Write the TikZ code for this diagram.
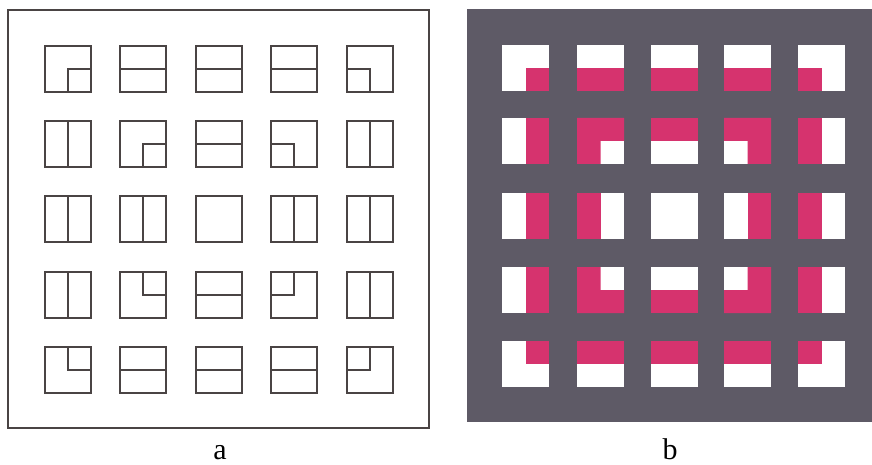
\documentclass[tikz,border=0pt]{standalone}
\usepackage{fontspec}
\setmainfont{Liberation Serif}
\definecolor{linec}{HTML}{4A4444}
\definecolor{bgray}{HTML}{5E5A66}
\definecolor{pinkc}{HTML}{D6336E}
\tikzset{
  sq/.style={draw=linec,line width=1.3pt},
  pk/.style={fill=pinkc},
  lbl/.style={font=\fontsize{30}{36}\selectfont,anchor=base,inner sep=0pt},
  pics/aN/.style={code={\draw[sq] (0,0) rectangle (46,46);}},
  pics/aH/.style={code={\draw[sq] (0,0) rectangle (46,46); \draw[sq] (0,23) -- (46,23);}},
  pics/aV/.style={code={\draw[sq] (0,0) rectangle (46,46); \draw[sq] (23,0) -- (23,46);}},
  pics/aBR/.style={code={\draw[sq] (0,0) rectangle (46,46); \draw[sq] (46,23) -- (23,23) -- (23,46);}},
  pics/aBL/.style={code={\draw[sq] (0,0) rectangle (46,46); \draw[sq] (0,23) -- (23,23) -- (23,46);}},
  pics/aTR/.style={code={\draw[sq] (0,0) rectangle (46,46); \draw[sq] (23,0) -- (23,23) -- (46,23);}},
  pics/aTL/.style={code={\draw[sq] (0,0) rectangle (46,46); \draw[sq] (23,0) -- (23,23) -- (0,23);}},
  pics/bN/.style={code={\fill[white] (0,0) rectangle (47,46);}},
  pics/bBR/.style={code={\fill[white] (0,0) rectangle (47,46); \fill[pk] (23.5,23) rectangle (47,46);}},
  pics/bBL/.style={code={\fill[white] (0,0) rectangle (47,46); \fill[pk] (0,23) rectangle (23.5,46);}},
  pics/bTR/.style={code={\fill[white] (0,0) rectangle (47,46); \fill[pk] (23.5,0) rectangle (47,23);}},
  pics/bTL/.style={code={\fill[white] (0,0) rectangle (47,46); \fill[pk] (0,0) rectangle (23.5,23);}},
  pics/bHB/.style={code={\fill[white] (0,0) rectangle (47,46); \fill[pk] (0,23) rectangle (47,46);}},
  pics/bHT/.style={code={\fill[white] (0,0) rectangle (47,46); \fill[pk] (0,0) rectangle (47,23);}},
  pics/bVR/.style={code={\fill[white] (0,0) rectangle (47,46); \fill[pk] (23.5,0) rectangle (47,46);}},
  pics/bVL/.style={code={\fill[white] (0,0) rectangle (47,46); \fill[pk] (0,0) rectangle (23.5,46);}},
  pics/bXBR/.style={code={\fill[white] (0,0) rectangle (47,46); \fill[pk] (0,0) -- (47,0) -- (47,23) -- (23.5,23) -- (23.5,46) -- (0,46) -- cycle;}},
  pics/bXBL/.style={code={\fill[white] (0,0) rectangle (47,46); \fill[pk] (0,0) -- (47,0) -- (47,46) -- (23.5,46) -- (23.5,23) -- (0,23) -- cycle;}},
  pics/bXTR/.style={code={\fill[white] (0,0) rectangle (47,46); \fill[pk] (0,0) -- (23.5,0) -- (23.5,23) -- (47,23) -- (47,46) -- (0,46) -- cycle;}},
  pics/bXTL/.style={code={\fill[white] (0,0) rectangle (47,46); \fill[pk] (23.5,0) -- (47,0) -- (47,46) -- (0,46) -- (0,23) -- (23.5,23) -- cycle;}}
}
\begin{document}
\begin{tikzpicture}[x=1pt,y=-1pt]
\useasboundingbox (0,0) rectangle (872,465);
% panel a
\draw[sq,line width=1.5pt] (8,10) rectangle (429,428);
\foreach \t [count=\i from 0] in {aBR,aH,aH,aH,aBL,aV,aBR,aH,aBL,aV,aV,aV,aN,aV,aV,aV,aTR,aH,aTL,aV,aTR,aH,aH,aH,aTL}{
  \pgfmathtruncatemacro\c{mod(\i,5)}
  \pgfmathtruncatemacro\r{div(\i,5)}
  \pgfmathsetmacro\xx{{45,120,196,271,347}[\c]}
  \pgfmathsetmacro\yy{{46,121,196,272,347}[\r]}
  \pic at (\xx,\yy) {\t};
}
\node[lbl] (la) at (220,459) {a};
% panel b
\fill[bgray] (467,9) rectangle (872,422);
\foreach \t [count=\i from 0] in {bBR,bHB,bHB,bHB,bBL,bVR,bXBR,bHT,bXBL,bVL,bVR,bVL,bN,bVR,bVL,bVR,bXTR,bHB,bXTL,bVL,bTR,bHT,bHT,bHT,bTL}{
  \pgfmathtruncatemacro\c{mod(\i,5)}
  \pgfmathtruncatemacro\r{div(\i,5)}
  \pgfmathsetmacro\xx{{502,577,651,724,798}[\c]}
  \pgfmathsetmacro\yy{{45,118,193,267,341}[\r]}
  \pic at (\xx,\yy) {\t};
}
\node[lbl] (lb) at (670,459) {b};
\end{tikzpicture}
\end{document}
